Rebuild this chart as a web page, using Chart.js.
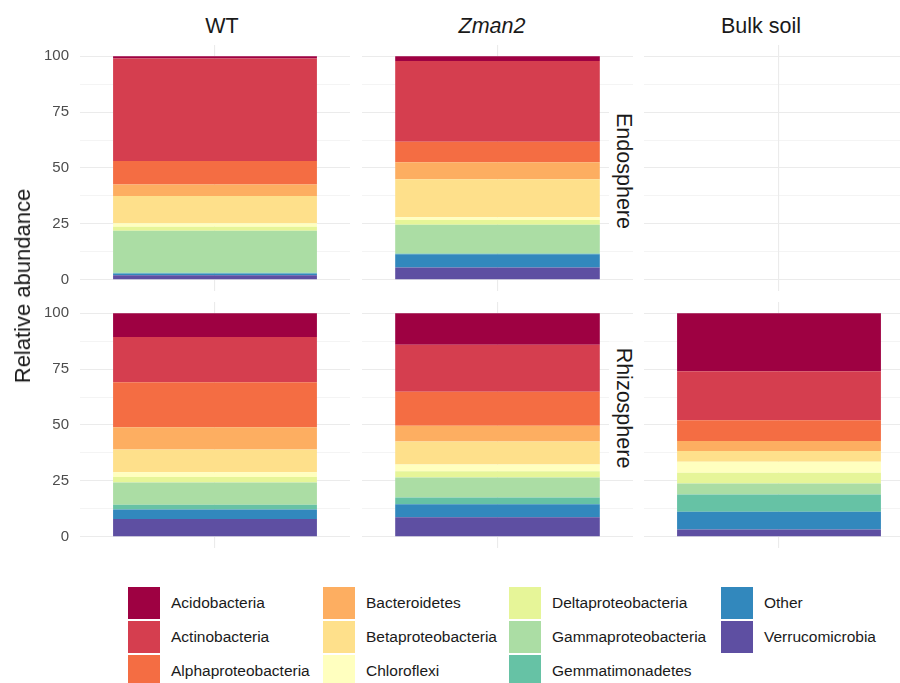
<!DOCTYPE html>
<html>
<head>
<meta charset="utf-8">
<script src="https://cdn.jsdelivr.net/npm/chart.js@4"></script>
<style>
  body { margin: 0; background: #fff; }
  #fig { position: relative; width: 900px; height: 683px; overflow: hidden; background: #fff;
         font-family: 'Liberation Sans', Arial, sans-serif; color: #1a1a1a; }
  #fig canvas { position: absolute; }
  .col-strip { position: absolute; top: 26px; font-size: 21.5px; white-space: nowrap;
               transform: translate(-50%, -50%); }
  .row-strip { position: absolute; font-size: 21.5px; white-space: nowrap; background: #fff;
               line-height: 30px; padding: 0 6px; transform: translate(-50%, -50%) rotate(90deg); }
  #ytitle { position: absolute; left: 23px; top: 286px; font-size: 22px; white-space: nowrap;
            transform: translate(-50%, -50%) rotate(-90deg); }
  .key { position: absolute; width: 32px; height: 32px; }
  .key-label { position: absolute; font-size: 15.5px; line-height: 32px; white-space: nowrap; }
</style>
</head>
<body>
<div id="fig">
  <canvas id="wt-endo" width="350" height="246" style="left:0;top:45px"></canvas>
  <canvas id="zman2-endo" width="271" height="246" style="left:362px;top:45px"></canvas>
  <canvas id="bulk-endo" width="270" height="246" style="left:644px;top:45px"></canvas>
  <canvas id="wt-rhizo" width="350" height="246" style="left:0;top:302px"></canvas>
  <canvas id="zman2-rhizo" width="271" height="246" style="left:362px;top:302px"></canvas>
  <canvas id="bulk-rhizo" width="270" height="246" style="left:644px;top:302px"></canvas>

  <div class="col-strip" style="left:222px">WT</div>
  <div class="col-strip" style="left:492px"><i>Zman2</i></div>
  <div class="col-strip" style="left:761px">Bulk soil</div>
  <div class="row-strip" style="left:624px;top:171px">Endosphere</div>
  <div class="row-strip" style="left:624px;top:408px">Rhizosphere</div>
  <div id="ytitle">Relative abundance</div>
  <div id="legend"></div>
</div>
<script>
const FONT = "'Liberation Sans', Arial, sans-serif";

// taxa from top of the stack to the bottom
const taxa = [
  'Acidobacteria', 'Actinobacteria', 'Alphaproteobacteria', 'Bacteroidetes',
  'Betaproteobacteria', 'Chloroflexi', 'Deltaproteobacteria', 'Gammaproteobacteria',
  'Gemmatimonadetes', 'Other', 'Verrucomicrobia',
];
const palette = [
  '#9E0142', '#D53E4F', '#F46D43', '#FDAE61', '#FEE08B', '#FFFFBF',
  '#E6F598', '#ABDDA4', '#66C2A5', '#3288BD', '#5E4FA2',
];

// relative abundance (%) per taxon, same order as taxa
const wtEndo = [1.0, 45.9, 10.5, 5.1, 12.2, 1.6, 1.8, 18.7, 0.4, 0.8, 2.0];
const zman2Endo = [2.1, 36.2, 9.1, 7.6, 17.0, 1.2, 2.2, 12.8, 0.4, 5.9, 5.5];
const bulkEndo = [];
const wtRhizo = [10.7, 20.2, 20.1, 10.0, 10.1, 2.2, 2.4, 10.0, 2.1, 4.2, 8.0];
const zman2Rhizo = [14.1, 21.0, 15.2, 7.1, 10.3, 3.0, 2.8, 8.9, 3.0, 5.8, 8.8];
const bulkRhizo = [26.0, 21.9, 9.2, 4.5, 4.8, 4.9, 4.9, 4.9, 7.7, 7.9, 3.3];

const yTicks = [0, 12.5, 25, 37.5, 50, 62.5, 75, 87.5, 100];

const isMajor = (v) => v % 25 === 0;

const buildDatasets = (values) =>
  taxa
    .map((name, i) => ({
      label: name,
      data: values.length ? [values[i]] : [],
      backgroundColor: palette[i],
      borderWidth: 0,
      barPercentage: 0.755,
      categoryPercentage: 1,
    }))
    .reverse(); // Chart.js stacks the first dataset at the bottom

const makePanel = (id, values, showAxis) => {
  new Chart(document.getElementById(id), {
    type: 'bar',
    data: { labels: [''], datasets: buildDatasets(values) },
    options: {
      responsive: false,
      animation: false,
      layout: { padding: 0 },
      plugins: { legend: { display: false }, tooltip: { enabled: false } },
      scales: {
        x: {
          stacked: true,
          offset: true,
          ticks: { display: false },
          grid: { offset: false, drawTicks: false, color: '#ebebeb', lineWidth: 1.1 },
          border: { display: false },
          afterFit: (s) => { s.height = 0; },
        },
        y: {
          stacked: true,
          min: -5,
          max: 105,
          afterBuildTicks: (s) => { s.ticks = yTicks.map((v) => ({ value: v })); },
          afterFit: (s) => {
            s.width = showAxis ? 80 : 0;
            s.paddingTop = 0;
            s.paddingBottom = 0;
          },
          ticks: {
            display: showAxis,
            autoSkip: false,
            padding: 11,
            color: '#4d4d4d',
            font: { size: 15, family: FONT },
            callback: (v) => (isMajor(v) ? v : ''),
          },
          grid: {
            drawTicks: false,
            color: '#ebebeb',
            lineWidth: (ctx) => (ctx.tick && isMajor(ctx.tick.value) ? 1.1 : 0.55),
          },
          border: { display: false },
        },
      },
    },
  });
};

makePanel('wt-endo', wtEndo, true);
makePanel('zman2-endo', zman2Endo, false);
makePanel('bulk-endo', bulkEndo, false);
makePanel('wt-rhizo', wtRhizo, true);
makePanel('zman2-rhizo', zman2Rhizo, false);
makePanel('bulk-rhizo', bulkRhizo, false);

// legend: 4 columns, filled column by column
const legendCols = [128, 323, 509, 721];
const legendTop = 587;
const legend = document.getElementById('legend');
taxa.forEach((name, i) => {
  const x = legendCols[Math.floor(i / 3)];
  const y = legendTop + (i % 3) * 34;
  const key = document.createElement('div');
  key.className = 'key';
  key.style.left = `${x}px`;
  key.style.top = `${y}px`;
  key.style.background = palette[i];
  const label = document.createElement('div');
  label.className = 'key-label';
  label.style.left = `${x + 43}px`;
  label.style.top = `${y}px`;
  label.textContent = name;
  legend.append(key, label);
});
</script>
</body>
</html>
